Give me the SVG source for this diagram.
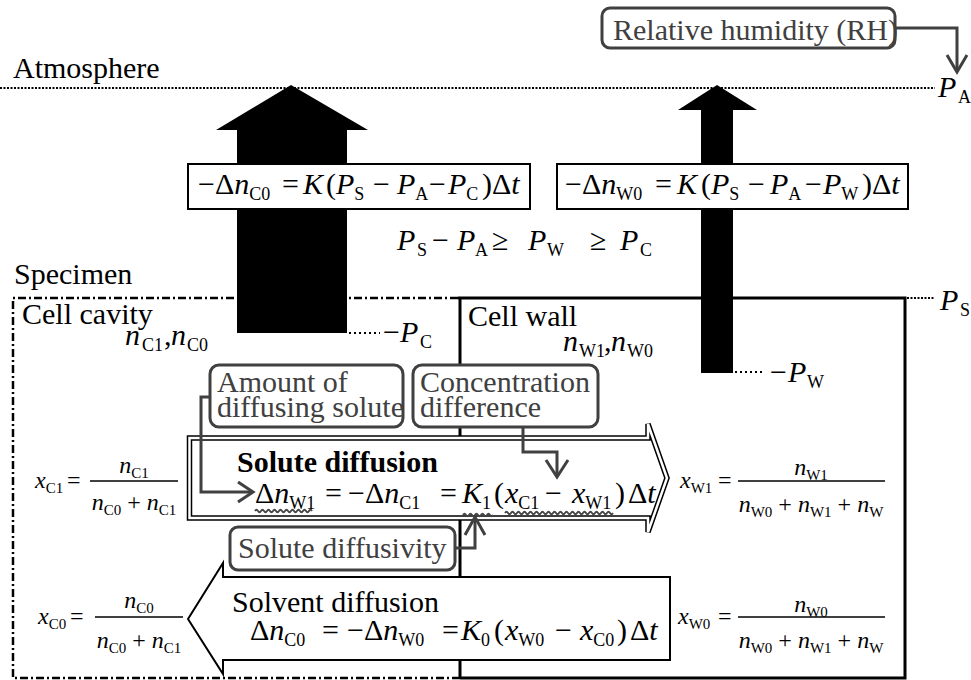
<svg xmlns="http://www.w3.org/2000/svg" width="971" height="680" viewBox="0 0 971 680">
<defs>
<style>
.t{font-family:"Liberation Serif","Times New Roman",serif;font-size:30px;fill:#000}
.i{font-style:italic}
.s{font-size:18px;font-style:normal}
.f{font-size:24px}
.fs{font-size:15px;font-style:normal}
.g{fill:#404040}
.b{font-weight:bold}
.lbl{fill:#fff;stroke:#404040;stroke-width:3}
.con{fill:none;stroke:#404040;stroke-width:3;stroke-linejoin:miter}
.dot{fill:none;stroke:#000;stroke-width:2;stroke-dasharray:2 1.5}
.dot2{fill:none;stroke:#000;stroke-width:2;stroke-dasharray:2 3}
.dd{fill:none;stroke:#000;stroke-width:2.5;stroke-dasharray:8 3 2 3}
.sol{fill:none;stroke:#000;stroke-width:3}
.eq{fill:#fff;stroke:#000;stroke-width:2}
.bar{stroke:#000;stroke-width:1.3}
.wav{fill:none;stroke:#444;stroke-width:1.8}
</style>
</defs>

<g id="atmosphere">
<line class="dot" x1="0" y1="88" x2="935" y2="88"/>
<text class="t" x="13" y="78">Atmosphere</text>
<text class="t"><tspan class="i" x="938" y="97">P</tspan><tspan class="s" x="958" y="103">A</tspan></text>
</g>

<g id="specimen">
<path class="dd" d="M458,298 H13 V678 H460"/>
<path class="sol" d="M458,298 H905 V678 H460"/>
<line class="sol" x1="460" y1="298" x2="460" y2="678"/>
<line class="dot" x1="907" y1="298" x2="935" y2="298"/>
<text class="t"><tspan class="i" x="940" y="310">P</tspan><tspan class="s" x="960" y="316">S</tspan></text>
<text class="t" x="14" y="284">Specimen</text>
</g>

<g id="cell-cavity">
<text class="t" x="22" y="324">Cell cavity</text>
<text class="t"><tspan class="i" x="125" y="345">n</tspan><tspan class="s" x="142" y="351">C1</tspan><tspan x="164" y="345">,</tspan><tspan class="i" x="171" y="345">n</tspan><tspan class="s" x="187" y="351">C0</tspan></text>
</g>

<g id="cell-wall">
<text class="t" x="468" y="326">Cell wall</text>
<text class="t"><tspan class="i" x="563" y="351">n</tspan><tspan class="s" x="579" y="357">W1</tspan><tspan x="604" y="351">,</tspan><tspan class="i" x="611" y="351">n</tspan><tspan class="s" x="627" y="357">W0</tspan></text>
</g>

<g id="flux-cavity">
<path d="M291,85 L368,130 L347,130 L347,333 L237,333 L237,130 L216,130 Z" fill="#000"/>
<line class="dot2" x1="349" y1="333" x2="380" y2="333"/>
<text class="t"><tspan x="383" y="342">−</tspan><tspan class="i" x="400" y="342">P</tspan><tspan class="s" x="420" y="348">C</tspan></text>
</g>

<g id="flux-wall">
<path d="M717,85 L757,110 L733,110 L733,373 L701,373 L701,110 L678,110 Z" fill="#000"/>
<line class="dot2" x1="735" y1="372" x2="764" y2="372"/>
<text class="t"><tspan x="770" y="382">−</tspan><tspan class="i" x="788" y="382">P</tspan><tspan class="s" x="807" y="388">W</tspan></text>
</g>

<g id="eq-cavity">
<rect class="eq" x="188" y="164" width="342" height="45"/>
<text class="t"><tspan x="198" y="194">−Δ</tspan><tspan class="i">n</tspan><tspan class="s" y="200">C0</tspan><tspan x="282" y="194">=</tspan><tspan class="i" x="303" y="194">K</tspan><tspan x="326" y="194">(</tspan><tspan class="i">P</tspan><tspan class="s" y="200">S</tspan><tspan x="373" y="194">−</tspan><tspan class="i" x="397" y="194">P</tspan><tspan class="s" y="200">A</tspan><tspan x="429" y="194">−</tspan><tspan class="i" x="448" y="194">P</tspan><tspan class="s" y="200">C</tspan><tspan x="482" y="194">)Δ</tspan><tspan class="i">t</tspan></text>
</g>

<g id="eq-wall">
<rect class="eq" x="557" y="164" width="351" height="45"/>
<text class="t"><tspan x="565" y="194">−Δ</tspan><tspan class="i">n</tspan><tspan class="s" y="200">W0</tspan><tspan x="655" y="194">=</tspan><tspan class="i" x="677" y="194">K</tspan><tspan x="701" y="194">(</tspan><tspan class="i">P</tspan><tspan class="s" y="200">S</tspan><tspan x="748" y="194">−</tspan><tspan class="i" x="770" y="194">P</tspan><tspan class="s" y="200">A</tspan><tspan x="805" y="194">−</tspan><tspan class="i" x="823" y="194">P</tspan><tspan class="s" y="200">W</tspan><tspan x="862" y="194">)Δ</tspan><tspan class="i">t</tspan></text>
</g>

<g id="inequality">
<text class="t"><tspan class="i" x="397" y="250">P</tspan><tspan class="s" x="417" y="256">S</tspan><tspan x="432" y="250">−</tspan><tspan class="i" x="457" y="250">P</tspan><tspan class="s" x="475" y="256">A</tspan><tspan x="492" y="250">≥</tspan><tspan class="i" x="528" y="250">P</tspan><tspan class="s" x="547" y="256">W</tspan><tspan x="590" y="250">≥</tspan><tspan class="i" x="620" y="250">P</tspan><tspan class="s" x="640" y="256">C</tspan></text>
</g>

<g id="solute-diffusion">
<path d="M189.5,438 H648 V424 L667,478 L648,532 V518 H189.5 Z" fill="#fff" stroke="#000" stroke-width="5.5"/>
<path d="M189.5,438 H648 V424 L667,478 L648,532 V518 H189.5 Z" fill="none" stroke="#fff" stroke-width="2.5"/>
<text class="t b" x="237" y="472">Solute diffusion</text>
<text class="t"><tspan x="255" y="503">Δ</tspan><tspan class="i">n</tspan><tspan class="s" y="509">W1</tspan><tspan x="325" y="503">=</tspan><tspan x="348" y="503">−Δ</tspan><tspan class="i">n</tspan><tspan class="s" y="509">C1</tspan><tspan x="440" y="503">=</tspan><tspan class="i" x="462" y="503">K</tspan><tspan class="s" y="509">1</tspan><tspan x="494" y="503">(</tspan><tspan class="i" x="505" y="503">x</tspan><tspan class="s" y="509">C1</tspan><tspan x="545" y="503">−</tspan><tspan class="i" x="572" y="503">x</tspan><tspan class="s" y="509">W1</tspan><tspan x="615" y="503">)</tspan><tspan x="628" y="503">Δ</tspan><tspan class="i">t</tspan></text>
<path class="wav" d="M255,511 q1.5,-2.5 3,0 t3,0 t3,0 t3,0 t3,0 t3,0 t3,0 t3,0 t3,0 t3,0 t3,0 t3,0 t3,0 t3,0 t3,0 t3,0 t3,0 t3,0 t3,0"/>
<path class="wav" d="M463,515 q1.5,-2.5 3,0 t3,0 t3,0 t3,0 t3,0 t3,0 t3,0 t3,0 t3,0 t3,0"/>
<path class="wav" d="M505,513 q1.5,-2.5 3,0 t3,0 t3,0 t3,0 t3,0 t3,0 t3,0 t3,0 t3,0 t3,0 t3,0 t3,0 t3,0 t3,0 t3,0 t3,0 t3,0 t3,0 t3,0 t3,0 t3,0 t3,0 t3,0 t3,0 t3,0 t3,0 t3,0 t3,0 t3,0 t3,0 t3,0 t3,0 t3,0 t3,0 t3,0 t3,0"/>
</g>

<g id="solvent-diffusion">
<path d="M188,619 L223,563 V577 H670 V660 H223 V674 Z" fill="#fff" stroke="#000" stroke-width="2"/>
<text class="t" x="232" y="612">Solvent diffusion</text>
<text class="t"><tspan x="250" y="640">Δ</tspan><tspan class="i">n</tspan><tspan class="s" y="646">C0</tspan><tspan x="322" y="640">=</tspan><tspan x="347" y="640">−Δ</tspan><tspan class="i">n</tspan><tspan class="s" y="646">W0</tspan><tspan x="442" y="640">=</tspan><tspan class="i" x="461" y="640">K</tspan><tspan class="s" y="646">0</tspan><tspan x="494" y="640">(</tspan><tspan class="i" x="505" y="640">x</tspan><tspan class="s" y="646">W0</tspan><tspan x="555" y="640">−</tspan><tspan class="i" x="580" y="640">x</tspan><tspan class="s" y="646">C0</tspan><tspan x="617" y="640">)</tspan><tspan x="630" y="640">Δ</tspan><tspan class="i">t</tspan></text>
</g>

<g id="frac-xC1">
<text class="t f"><tspan class="i" x="35" y="488">x</tspan><tspan class="fs" y="493">C1</tspan><tspan x="67" y="488">=</tspan></text>
<line class="bar" x1="90" y1="481" x2="178" y2="481"/>
<text class="t f" text-anchor="middle" x="134" y="473"><tspan class="i">n</tspan><tspan class="fs" dy="5">C1</tspan></text>
<text class="t f" text-anchor="middle" x="134" y="510"><tspan class="i">n</tspan><tspan class="fs" dy="5">C0</tspan><tspan dy="-5"> + </tspan><tspan class="i">n</tspan><tspan class="fs" dy="5">C1</tspan></text>
</g>

<g id="frac-xC0">
<text class="t f"><tspan class="i" x="38" y="624">x</tspan><tspan class="fs" y="629">C0</tspan><tspan x="70" y="624">=</tspan></text>
<line class="bar" x1="95" y1="617" x2="183" y2="617"/>
<text class="t f" text-anchor="middle" x="139" y="608"><tspan class="i">n</tspan><tspan class="fs" dy="5">C0</tspan></text>
<text class="t f" text-anchor="middle" x="139" y="648"><tspan class="i">n</tspan><tspan class="fs" dy="5">C0</tspan><tspan dy="-5"> + </tspan><tspan class="i">n</tspan><tspan class="fs" dy="5">C1</tspan></text>
</g>

<g id="frac-xW1">
<text class="t f"><tspan class="i" x="680" y="488">x</tspan><tspan class="fs" y="493">W1</tspan><tspan x="718" y="488">=</tspan></text>
<line class="bar" x1="738" y1="481" x2="885" y2="481"/>
<text class="t f" text-anchor="middle" x="811" y="475"><tspan class="i">n</tspan><tspan class="fs" dy="5">W1</tspan></text>
<text class="t f" text-anchor="middle" x="811" y="512"><tspan class="i">n</tspan><tspan class="fs" dy="5">W0</tspan><tspan dy="-5"> + </tspan><tspan class="i">n</tspan><tspan class="fs" dy="5">W1</tspan><tspan dy="-5"> + </tspan><tspan class="i">n</tspan><tspan class="fs" dy="5">W</tspan></text>
</g>

<g id="frac-xW0">
<text class="t f"><tspan class="i" x="678" y="624">x</tspan><tspan class="fs" y="629">W0</tspan><tspan x="718" y="624">=</tspan></text>
<line class="bar" x1="738" y1="617" x2="885" y2="617"/>
<text class="t f" text-anchor="middle" x="811" y="612"><tspan class="i">n</tspan><tspan class="fs" dy="5">W0</tspan></text>
<text class="t f" text-anchor="middle" x="811" y="648"><tspan class="i">n</tspan><tspan class="fs" dy="5">W0</tspan><tspan dy="-5"> + </tspan><tspan class="i">n</tspan><tspan class="fs" dy="5">W1</tspan><tspan dy="-5"> + </tspan><tspan class="i">n</tspan><tspan class="fs" dy="5">W</tspan></text>
</g>

<g id="label-rh">
<rect class="lbl" x="602" y="8" width="293" height="40" rx="8"/>
<text class="t g" x="613" y="40">Relative humidity (RH)</text>
</g>

<g id="label-amount">
<rect class="lbl" x="210" y="365" width="193" height="62" rx="9"/>
<text class="t g" x="217" y="392">Amount of</text>
<text class="t g" x="217" y="417">diffusing solute</text>
</g>

<g id="label-concentration">
<rect class="lbl" x="413" y="365" width="185" height="62" rx="9"/>
<text class="t g" x="420" y="392">Concentration</text>
<text class="t g" x="420" y="417">difference</text>
</g>

<g id="label-diffusivity">
<rect class="lbl" x="230" y="527" width="225" height="43" rx="8"/>
<text class="t g" x="238" y="558">Solute diffusivity</text>
</g>

<g id="connectors">
<path class="con" d="M895,28 H957 V71"/>
<path class="con" d="M947,55 L957,72 L967,55"/>
<path class="con" d="M210,397 H201 V492 H252"/>
<path class="con" d="M238,482 L253,492 L238,502"/>
<path class="con" d="M523,427 V452 H557 V476"/>
<path class="con" d="M546,460 L557,477 L568,460"/>
<path class="con" d="M455,548 H475 V518"/>
<path class="con" d="M465,535 L475,517 L485,535"/>
</g>
</svg>
